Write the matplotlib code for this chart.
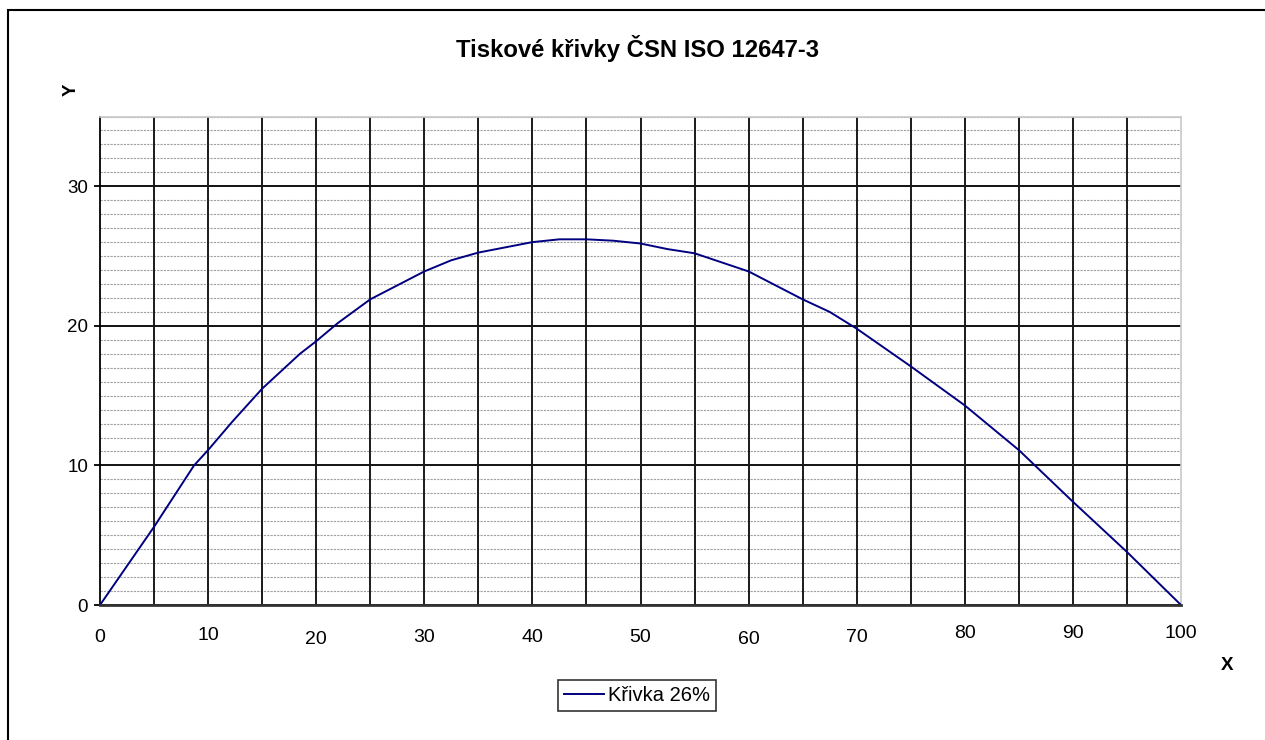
import matplotlib
matplotlib.use("Agg")
import matplotlib.pyplot as plt
from matplotlib.patches import Rectangle
from matplotlib.ticker import MultipleLocator

plt.rcParams['font.family'] = ['Liberation Sans', 'DejaVu Sans']

# curve
x_vals = [0, 5, 8.7, 10, 12.2, 15, 18.5, 20, 22, 25, 30, 32.5, 35, 40, 42.5, 45,
          47.5, 50, 52.5, 55, 60, 65, 67.5, 70, 75, 80, 85, 90, 95, 100]
y_vals = [0, 5.6, 10.0, 11.1, 13.1, 15.5, 18.0, 18.9, 20.2, 21.9, 23.9, 24.7, 25.25, 26.0, 26.2, 26.2,
          26.1, 25.9, 25.5, 25.2, 23.9, 21.9, 21.0, 19.8, 17.1, 14.3, 11.1, 7.4, 3.8, 0]

x_ticks = [0, 10, 20, 30, 40, 50, 60, 70, 80, 90, 100]
x_tick_labels = ['0', '10', '20', '30', '40', '50', '60', '70', '80', '90', '100']
y_ticks = [0, 10, 20, 30]

title = 'Tiskové křivky ČSN ISO 12647-3'
series_name = 'Křivka 26%'

# Excel-ish jitter of the category labels (px below axis)
label_drop = [32, 31, 34, 32, 32, 32, 34, 32, 29, 29, 29]

W, H = 1265, 740
fig = plt.figure(figsize=(W / 100, H / 100), dpi=100)
ax = fig.add_axes([100 / W, 1 - 605 / H, (1181 - 100) / W, (605 - 116.5) / H])

ax.set_xlim(0, 100)
ax.set_ylim(0, 35)

# grid
ax.yaxis.set_minor_locator(MultipleLocator(1))
ax.set_yticks(y_ticks)
ax.grid(which='minor', axis='y', color='#a0a0a0', lw=0.8, ls=(0, (2, 1)))
ax.grid(which='major', axis='y', color='black', lw=1.3)
for xv in range(5, 100, 5):
    ax.axvline(xv, color='#1a1a1a', lw=1.4, zorder=1)
ax.set_axisbelow(True)

ax.plot(x_vals, y_vals, color='#000080', lw=1.4, label=series_name, zorder=3)

for side in ['top', 'right']:
    ax.spines[side].set_color('#c8c8c8')
    ax.spines[side].set_linewidth(1.2)
ax.spines['left'].set_color('black')
ax.spines['left'].set_linewidth(1.3)
ax.spines['bottom'].set_color('#333333')
ax.spines['bottom'].set_linewidth(2.0)
ax.spines['bottom'].set_zorder(4)

ax.tick_params(axis='y', which='major', direction='out', length=4.5, width=1.3,
               labelsize=13.5, pad=4)
ax.tick_params(axis='y', which='minor', length=0)
ax.set_xticks([])
for xv, lab, d in zip(x_ticks, x_tick_labels, label_drop):
    ax.annotate(lab, (xv, 0), xytext=(0, -d * 0.72), textcoords='offset points',
                ha='center', va='center', fontsize=14, annotation_clip=False)

fig.text(638 / W, 1 - 48 / H, title, ha='center', va='center',
         fontsize=17.2, fontweight='bold')
fig.text(71 / W, 1 - 90 / H, 'Y', ha='center', va='center', rotation=90,
         fontsize=13.5, fontweight='bold')
fig.text(1227 / W, 1 - 666 / H, 'X', ha='center', va='center',
         fontsize=13.5, fontweight='bold')

leg = fig.legend(loc='center', bbox_to_anchor=(637 / W, 1 - 695.5 / H),
                 fontsize=14.5, frameon=True, fancybox=False, shadow=False,
                 handlelength=2.0, handletextpad=0.2, borderpad=0.3,
                 borderaxespad=0)
leg.get_frame().set_edgecolor('black')
leg.get_frame().set_linewidth(1.2)

# outer chart frame (right/bottom edges fall outside the image)
fig.patches.append(Rectangle((8 / W, -0.1), 1.2, 1.1 - 10 / H, transform=fig.transFigure,
                             fill=False, edgecolor='black', lw=1.5))

fig.savefig('out.png', dpi=100)
